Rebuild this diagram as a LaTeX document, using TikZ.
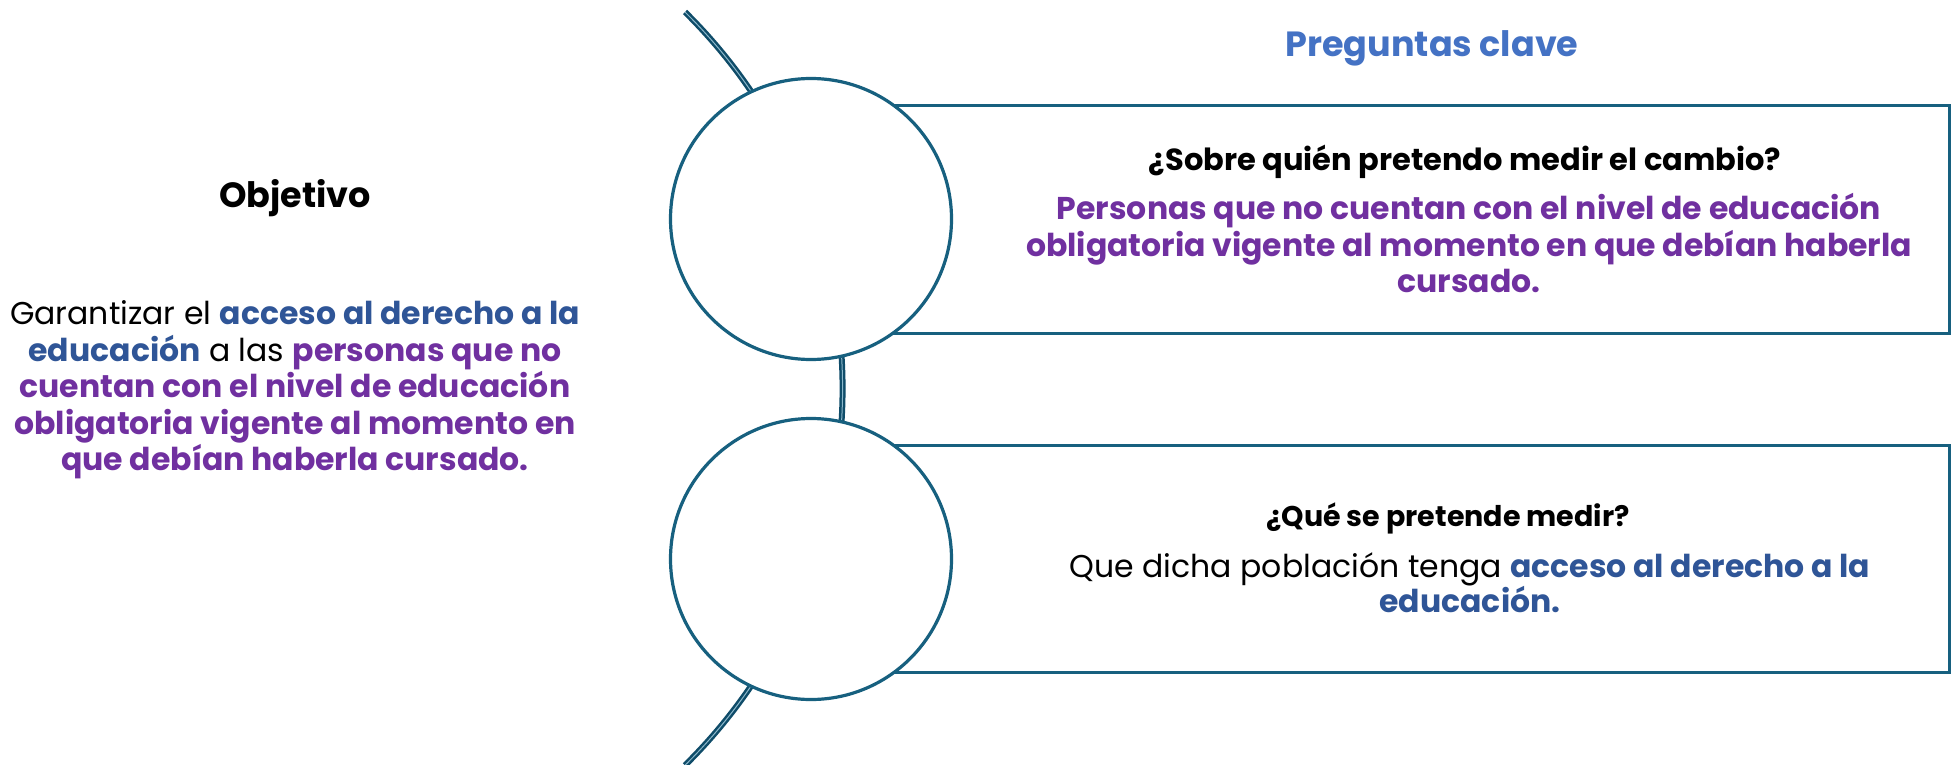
\documentclass[tikz,border=0pt]{standalone}
\usepackage{fontspec}
\setmainfont{Poppins}
\definecolor{lineblue}{HTML}{17607F}
\definecolor{arcdark}{HTML}{0F4C69}
\definecolor{arclight}{HTML}{8DB9CC}
\definecolor{purp}{HTML}{7030A0}
\definecolor{dblue}{HTML}{2F5597}
\definecolor{tblue}{HTML}{4472C4}
\tikzset{
  ring/.style={circle, draw=lineblue, line width=3.2pt, fill=white, minimum size=281pt, inner sep=0pt},
  qbox/.style={rectangle, draw=lineblue, line width=3pt, anchor=west, minimum width=1137pt, minimum height=227pt, inner sep=0pt},
  txt/.style={align=center, inner sep=0pt, font=\fontsize{31.5}{36.5}\selectfont},
  head/.style={align=center, inner sep=0pt, font=\fontsize{30.5}{36.5}\selectfont\bfseries},
}
\newcommand{\pu}[1]{\textcolor{purp}{\bfseries #1}}
\newcommand{\db}[1]{\textcolor{dblue}{\bfseries #1}}
\begin{document}
\begin{tikzpicture}[x=1pt,y=1pt]
\useasboundingbox[fill=white] (0,0) rectangle (1954,-765);
% arc
\draw[arcdark, line width=2.5pt, double=arclight, double distance=1pt] (685,-12) arc[start angle=45.4, end angle=-45.4, radius=529pt];
% boxes
\node[qbox] (b1) at (811,-219.5) {};
\node[qbox] (b2) at (811,-559) {};
% circles
\node[ring] (c1) at (811,-219) {};
\node[ring] (c2) at (811,-559) {};
% title
\node[inner sep=0pt, font=\fontsize{35}{40}\selectfont\bfseries, text=tblue] (title) at (1432,-48) {Preguntas clave};
% left
\node[head, font=\fontsize{35}{40}\selectfont\bfseries] (obj) at (295,-198) {Objetivo};
\node[txt] (objtxt) at (295,-390) {Garantizar el \db{acceso al derecho a la}\\ \db{educación} a las \pu{personas que no}\\ \pu{cuentan con el nivel de educación}\\ \pu{obligatoria vigente al momento en}\\ \pu{que debían haberla cursado.}};
% right top
\node[head] (q1) at (1465,-162) {¿Sobre quién pretendo medir el cambio?};
\node[txt] (a1) at (1469,-243) {\pu{Personas que no cuentan con el nivel de educación}\\ \pu{obligatoria vigente al momento en que debían haberla}\\ \pu{cursado.}};
% right bottom
\node[head, font=\fontsize{28.5}{36.5}\selectfont\bfseries] (q2) at (1448,-518) {¿Qué se pretende medir?};
\node[txt, font=\fontsize{31.5}{35}\selectfont] (a2) at (1470,-583) {Que dicha población tenga \db{acceso al derecho a la}\\ \db{educación.}};
\end{tikzpicture}
\end{document}
